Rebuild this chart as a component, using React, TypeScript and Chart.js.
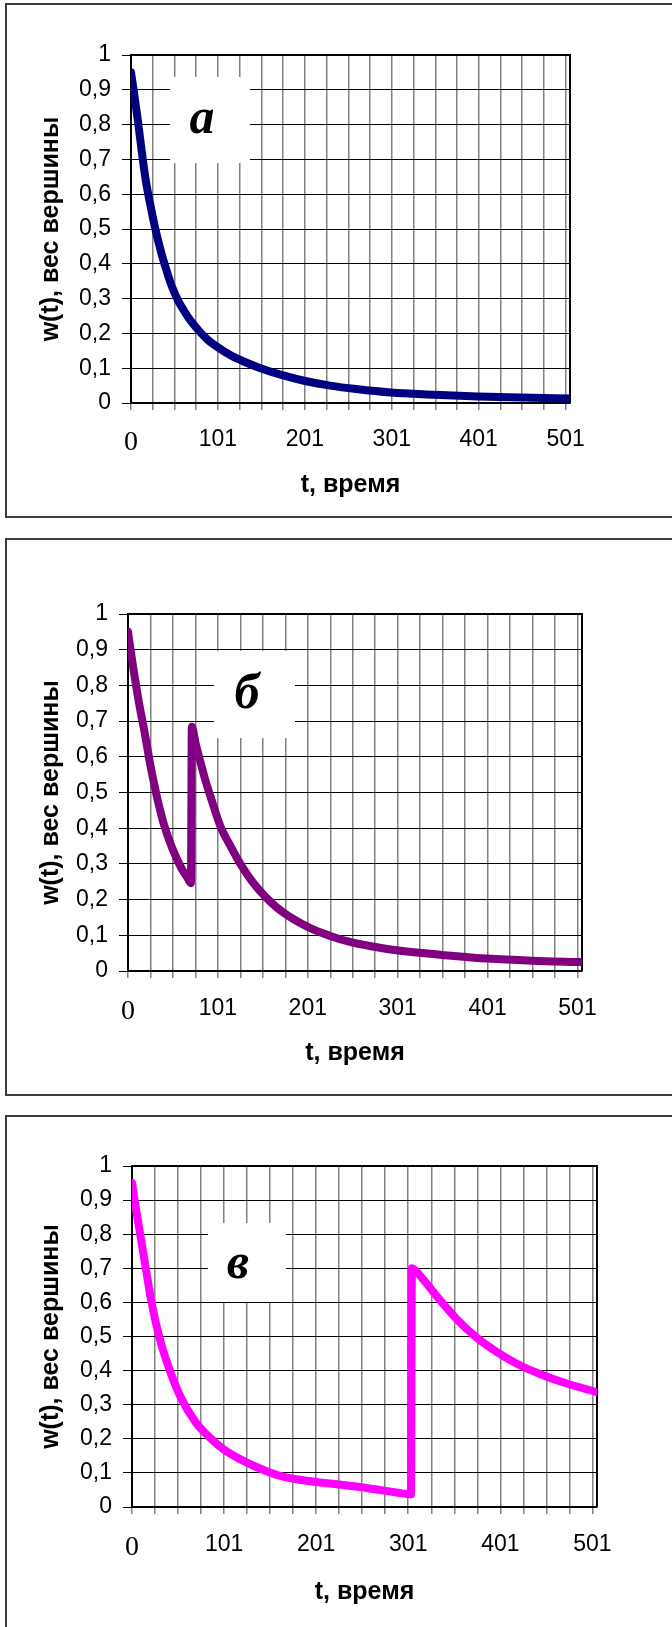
import React, { useEffect, useRef } from 'react';
import { Chart, registerables } from 'chart.js';

Chart.register(...registerables);

// ---- axis ticks and labels ----
const yTickValues = [0, 0.1, 0.2, 0.3, 0.4, 0.5, 0.6, 0.7, 0.8, 0.9, 1];
const yTickLabels = ['0', '0,1', '0,2', '0,3', '0,4', '0,5', '0,6', '0,7', '0,8', '0,9', '1'];
const xGridValues = [1, 26, 51, 76, 101, 126, 151, 176, 201, 226, 251, 276, 301, 326, 351, 376, 401, 426, 451, 476, 501];
const xLabelValues = [1, 101, 201, 301, 401, 501];
const xLabelTexts = ['0', '101', '201', '301', '401', '501'];
const xMin = 1;
const xMax = 506;

const yTitle = 'w(t), вес вершины';
const xTitle = 't, время';
const letters = ['а', 'б', 'в'];

// ---- series ----
const tA = [1, 4, 9, 13, 18, 24, 29, 36, 42, 48, 55, 62, 70, 80, 90, 101, 115, 130, 150, 175, 200, 230, 260, 300, 350, 400, 450, 506];
const wA = [0.95, 0.9, 0.81, 0.73, 0.64, 0.56, 0.5, 0.43, 0.38, 0.335, 0.295, 0.265, 0.235, 0.205, 0.18, 0.16, 0.138, 0.12, 0.1, 0.08, 0.064, 0.05, 0.04, 0.03, 0.024, 0.019, 0.016, 0.013];

const tB = [1, 5, 9, 14, 19, 26, 33, 41, 50, 61, 67, 71, 72, 76, 80, 87, 94, 104, 115, 127, 140, 155, 173, 202, 225, 250, 275, 300, 350, 400, 450, 506];
const wB = [0.95, 0.88, 0.815, 0.74, 0.675, 0.575, 0.49, 0.41, 0.345, 0.285, 0.262, 0.246, 0.684, 0.64, 0.6, 0.535, 0.479, 0.404, 0.35, 0.296, 0.248, 0.205, 0.165, 0.122, 0.099, 0.08, 0.068, 0.058, 0.045, 0.035, 0.029, 0.025];

const tC = [1, 5, 9, 16, 22, 30, 40, 53, 70, 85, 100, 115, 133, 150, 165, 185, 205, 226, 250, 270, 290, 304, 305, 310, 318, 336, 354, 376, 397, 419, 444, 473, 506];
const wC = [0.95, 0.88, 0.815, 0.7, 0.603, 0.505, 0.416, 0.327, 0.249, 0.205, 0.17, 0.145, 0.121, 0.102, 0.089, 0.079, 0.072, 0.066, 0.058, 0.05, 0.042, 0.037, 0.7, 0.69, 0.665, 0.605, 0.55, 0.495, 0.455, 0.42, 0.39, 0.362, 0.337];

const seriesColors = ['#000080', '#800080', '#FF00FF'];

// ---- layout (page pixels) ----
const W = 672;
const panels = [
  {
    top: 0, height: 520,
    area: { left: 131, right: 570, top: 55, bottom: 403 },
    xTickPad: 16, xTitlePad: 20,
    box: { x1: 170, x2: 250, y1: 77, y2: 163 }, letterX: 202, letterY: 133,
    t: tA, w: wA, color: seriesColors[0], letter: letters[0],
  },
  {
    top: 520, height: 580,
    area: { left: 128, right: 582, top: 94, bottom: 451 },
    xTickPad: 17, xTitlePad: 32,
    box: { x1: 214, x2: 295, y1: 131, y2: 218 }, letterX: 247, letterY: 188,
    t: tB, w: wB, color: seriesColors[1], letter: letters[1],
  },
  {
    top: 1100, height: 527,
    area: { left: 132, right: 597, top: 66, bottom: 407 },
    xTickPad: 17, xTitlePad: 20,
    box: { x1: 208, x2: 286, y1: 123, y2: 202 }, letterX: 238, letterY: 178,
    t: tC, w: wC, color: seriesColors[2], letter: letters[2],
  },
];

const borders = [
  { top: 3, height: 515 },
  { top: 538, height: 558 },
  { top: 1115, height: 600 },
];

const SANS = '"Liberation Sans", Arial, sans-serif';
const SERIF = '"Liberation Serif", serif';

const framePlugin = {
  id: 'frameAndLetter',
  beforeDatasetsDraw(chart: any, _args: any, opts: any) {
    const { ctx, chartArea: a } = chart;
    ctx.save();
    ctx.strokeStyle = '#000';
    ctx.lineWidth = 2;
    ctx.beginPath();
    ctx.moveTo(a.left, a.top);
    ctx.lineTo(a.right, a.top);
    ctx.lineTo(a.right, a.bottom);
    ctx.stroke();
    const b = opts.box;
    ctx.fillStyle = '#fff';
    ctx.fillRect(b.x1, b.y1, b.x2 - b.x1, b.y2 - b.y1);
    ctx.fillStyle = '#000';
    ctx.font = 'italic bold 50px ' + SERIF;
    ctx.textAlign = 'center';
    ctx.textBaseline = 'alphabetic';
    ctx.fillText(opts.letter, opts.lx, opts.ly);
    ctx.restore();
  },
};

function Panel({ cfg }: { cfg: any }) {
  const ref = useRef<HTMLCanvasElement>(null);
  useEffect(() => {
    const canvas = ref.current!;
    const area = cfg.area;
    const chart = new Chart(canvas, {
      type: 'line',
      data: {
        datasets: [
          {
            data: cfg.t.map((x: number, i: number) => ({ x, y: cfg.w[i] })),
            borderColor: cfg.color,
            backgroundColor: cfg.color,
            borderWidth: 8,
            pointRadius: 0,
            cubicInterpolationMode: 'monotone',
            borderCapStyle: 'round',
            borderJoinStyle: 'round',
            fill: false,
          },
        ],
      },
      options: {
        responsive: false,
        animation: false,
        events: [],
        layout: { padding: { left: 0, right: W - area.right, top: area.top, bottom: 0 } },
        plugins: {
          legend: { display: false },
          tooltip: { enabled: false },
          frameAndLetter: {
            box: cfg.box,
            letter: cfg.letter,
            lx: cfg.letterX,
            ly: cfg.letterY,
          },
        } as any,
        scales: {
          x: {
            type: 'linear',
            min: xMin,
            max: xMax,
            afterBuildTicks: (axis: any) => {
              axis.ticks = xGridValues.map((v) => ({ value: v }));
            },
            afterFit: (axis: any) => {
              axis.height = cfg.height - area.bottom;
            },
            grid: { color: '#808080', lineWidth: 1.5, tickLength: 7, drawTicks: true },
            border: { display: true, color: '#000', width: 2 },
            ticks: {
              autoSkip: false,
              maxRotation: 0,
              minRotation: 0,
              padding: cfg.xTickPad,
              color: '#000',
              callback: (value: any) => {
                const k = xLabelValues.indexOf(Number(value));
                return k >= 0 ? xLabelTexts[k] : '';
              },
              font: (ctx: any) =>
                ctx.tick && ctx.tick.value === xLabelValues[0]
                  ? { family: SERIF, size: 28 }
                  : { family: SANS, size: 23 },
            },
            title: {
              display: true,
              text: xTitle,
              color: '#000',
              font: { family: SANS, size: 25, weight: 'bold' },
              padding: { top: 0, bottom: cfg.xTitlePad },
            },
          },
          y: {
            type: 'linear',
            min: 0,
            max: 1,
            afterBuildTicks: (axis: any) => {
              axis.ticks = yTickValues.map((v) => ({ value: v }));
            },
            afterFit: (axis: any) => {
              axis.width = area.left;
            },
            grid: { color: '#000', lineWidth: 1, tickLength: 9, drawTicks: true },
            border: { display: true, color: '#000', width: 2 },
            ticks: {
              padding: 11,
              color: '#000',
              font: { family: SANS, size: 23 },
              callback: (_v: any, i: number) => yTickLabels[i],
            },
            title: {
              display: true,
              text: yTitle,
              color: '#000',
              font: { family: SANS, size: 25, weight: 'bold' },
              padding: { top: 36, bottom: 0 },
            },
          },
        },
      } as any,
      plugins: [framePlugin],
    });
    return () => chart.destroy();
  }, []);
  return (
    <canvas
      ref={ref}
      width={W}
      height={cfg.height}
      style={{ position: 'absolute', left: 0, top: cfg.top, width: W, height: cfg.height }}
    />
  );
}

export default function App() {
  return (
    <div
      style={{
        position: 'absolute',
        left: 0,
        top: 0,
        width: W,
        height: 1627,
        overflow: 'hidden',
        background: '#fff',
      }}
    >
      {borders.map((b, i) => (
        <div
          key={'b' + i}
          style={{
            position: 'absolute',
            left: 5,
            top: b.top,
            width: 720,
            height: b.height,
            border: '2px solid #3c3c3c',
            boxSizing: 'border-box',
          }}
        />
      ))}
      {panels.map((p, i) => (
        <Panel key={i} cfg={p} />
      ))}
    </div>
  );
}
